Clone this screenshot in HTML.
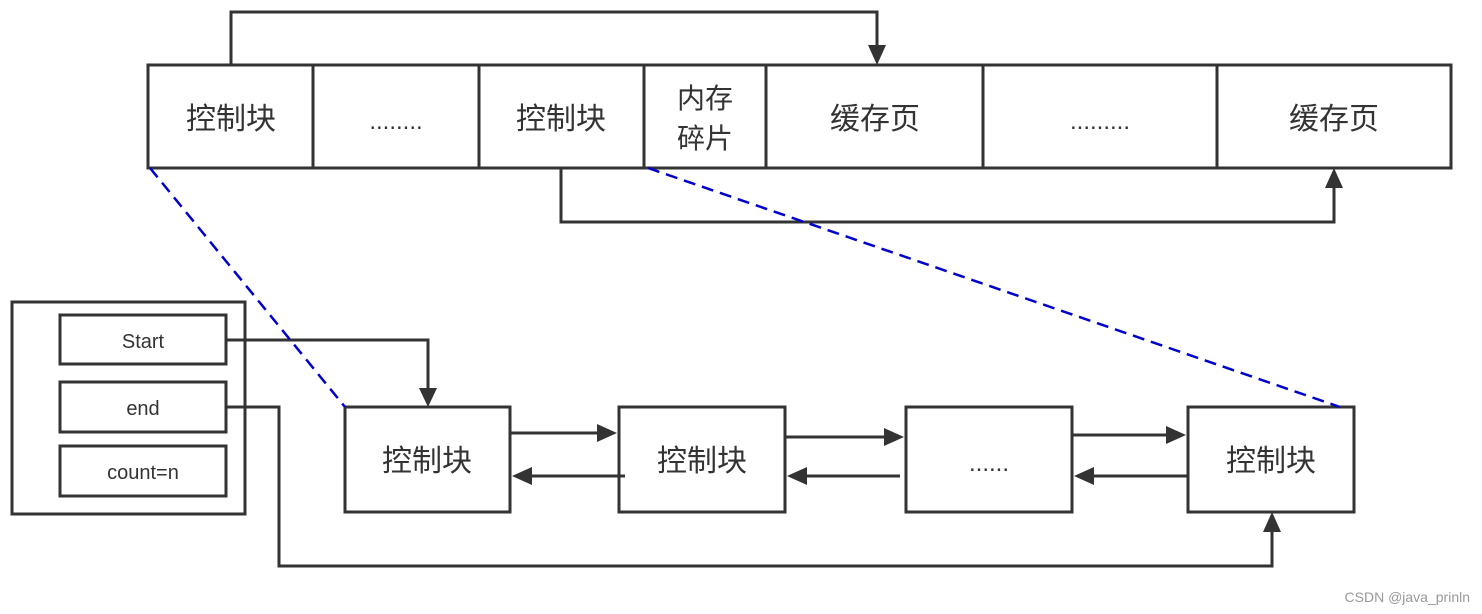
<!DOCTYPE html>
<html><head><meta charset="utf-8"><style>
html,body{margin:0;padding:0;background:#fff;}
svg{display:block}
text{font-family:"Liberation Sans","Noto Sans CJK SC",sans-serif;fill:#333;}
</style></head><body>
<svg width="1482" height="614" viewBox="0 0 1482 614" xmlns="http://www.w3.org/2000/svg">
<defs>
<marker id="a" markerWidth="10" markerHeight="10" refX="9" refY="5" orient="auto" markerUnits="userSpaceOnUse" viewBox="0 0 10 10">
<path d="M0,0 L10,5 L0,10 z" fill="#333"/></marker>
</defs>
<g fill="none" stroke="#333" stroke-width="3">
<rect x="148" y="65" width="1303" height="103" fill="#fff"/>
<line x1="313" y1="65" x2="313" y2="168"/>
<line x1="479" y1="65" x2="479" y2="168"/>
<line x1="644" y1="65" x2="644" y2="168"/>
<line x1="766" y1="65" x2="766" y2="168"/>
<line x1="983" y1="65" x2="983" y2="168"/>
<line x1="1217" y1="65" x2="1217" y2="168"/>
<polyline points="231,65 231,12 877,12 877,45"/>
<polyline points="561,168 561,222 1334,222 1334,188"/>
<rect x="12" y="302" width="233" height="212"/>
<rect x="60" y="315" width="166" height="49"/>
<rect x="60" y="382" width="166" height="50"/>
<rect x="60" y="446" width="166" height="50"/>
<polyline points="226,340 428,340 428,388"/>
<polyline points="226,407 279,407 279,566 1272,566 1272,532"/>
<rect x="345" y="407" width="165" height="105"/>
<rect x="619" y="407" width="166" height="105"/>
<rect x="906" y="407" width="166" height="105"/>
<rect x="1188" y="407" width="166" height="105"/>
<line x1="510" y1="433" x2="600" y2="433"/>
<line x1="625" y1="476" x2="530" y2="476"/>
<line x1="785" y1="437" x2="887" y2="437"/>
<line x1="900" y1="476" x2="805" y2="476"/>
<line x1="1072" y1="435" x2="1169" y2="435"/>
<line x1="1188" y1="476" x2="1092" y2="476"/>
</g>
<g fill="#333">
<path d="M868,45 L886,45 L877,65 z"/>
<path d="M1325,188 L1343,188 L1334,168 z"/>
<path d="M419,388 L437,388 L428,407 z"/>
<path d="M1263,532 L1281,532 L1272,512 z"/>
<path d="M597,424 L617,433 L597,442 z"/>
<path d="M532,467 L512,476 L532,485 z"/>
<path d="M884,428 L904,437 L884,446 z"/>
<path d="M807,467 L787,476 L807,485 z"/>
<path d="M1166,426 L1186,435 L1166,444 z"/>
<path d="M1094,467 L1074,476 L1094,485 z"/>
</g>
<g stroke="#0000cc" stroke-width="2.5" stroke-dasharray="12,7" fill="none">
<line x1="150" y1="168" x2="345" y2="407"/>
<line x1="648" y1="168" x2="1340" y2="407"/>
</g>
<g font-size="30" text-anchor="middle">
<text x="231" y="129">控制块</text>
<text x="396" y="129" font-size="24">........</text>
<text x="561" y="129">控制块</text>
<text x="705" y="108" font-size="28">内存</text>
<text x="705" y="148" font-size="28">碎片</text>
<text x="875" y="129">缓存页</text>
<text x="1100" y="129" font-size="24">.........</text>
<text x="1334" y="129">缓存页</text>
<text x="427" y="471">控制块</text>
<text x="702" y="471">控制块</text>
<text x="989" y="471" font-size="24">......</text>
<text x="1271" y="471">控制块</text>
</g>
<g font-size="20" text-anchor="middle">
<text x="143" y="348">Start</text>
<text x="143" y="415">end</text>
<text x="143" y="479">count=n</text>
</g>
<text x="1470" y="602" font-size="14" text-anchor="end" style="fill:#999">CSDN @java_prinln</text>
</svg>
</body></html>
